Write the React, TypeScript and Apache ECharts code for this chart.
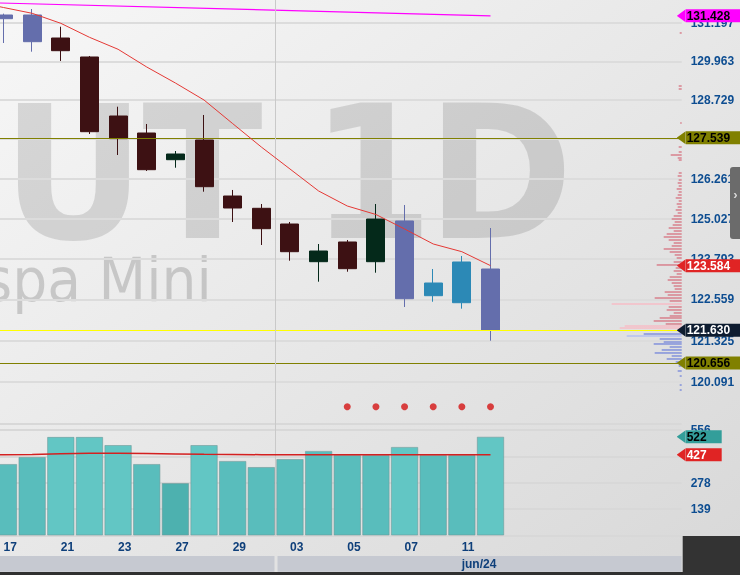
import React, { useEffect, useRef } from "react";
import * as echarts from "echarts";

// ---------- data ----------
const DATES = ["17", "20", "21", "22", "23", "24", "27", "28", "29", "31", "03", "04", "05", "06", "07", "10", "11", "12"];
const LABEL_IDX = [0, 2, 4, 6, 8, 10, 12, 14, 16];
const OPEN = [131.456, 131.456, 130.713, 130.103, 128.225, 127.689, 126.852, 127.469, 125.722, 125.342, 124.858, 123.704, 124.306, 123.704, 124.951, 122.672, 122.46, 123.481];
const CLOSE = [131.336, 130.594, 130.305, 127.73, 127.51, 126.54, 127.03, 126.011, 125.351, 124.714, 124.009, 124.03, 123.491, 125.012, 122.581, 123.056, 123.695, 121.63];
const LOW = [130.552, 130.273, 129.975, 127.658, 126.999, 126.5, 126.602, 125.856, 124.92, 124.214, 123.734, 123.096, 123.399, 123.369, 122.331, 122.49, 122.28, 121.319];
const HIGH = [131.5, 131.65, 131.077, 130.135, 128.519, 127.973, 127.124, 128.257, 125.909, 125.475, 124.92, 124.244, 124.367, 125.475, 125.444, 123.481, 123.878, 124.735];
const CANDLE_KIND = ["b", "b", "m", "m", "m", "m", "g", "m", "m", "m", "m", "g", "m", "g", "b", "t", "t", "b"];
const MA_PREV = 131.887;
const MA = [131.699, 131.511, 131.187, 130.736, 130.35, 129.782, 129.272, 128.731, 127.985, 127.249, 126.562, 125.878, 125.413, 125.151, 124.705, 124.245, 124.009, 123.584];
const TREND_START = 131.867; // index -1
const TREND_END = 131.428; // index 17
const LEVEL_UPPER = 127.539;
const LEVEL_LOWER = 120.656;
const LAST_PRICE = 121.63;
const SIGNAL_IDX = [12, 13, 14, 15, 16, 17];
const SIGNAL_PRICE = 119.36;
const PRICE_TICKS = [131.197, 129.963, 128.729, 127.495, 126.261, 125.027, 123.793, 122.559, 121.325, 120.091];

const VOL = [378, 415, 521, 521, 478, 378, 277, 478, 394, 362, 404, 447, 425, 425, 468, 425, 425, 522];
const VOL_KIND = [1, 1, 0, 0, 0, 1, 2, 0, 1, 1, 1, 1, 1, 1, 0, 1, 1, 0];
const VOL_MA_PREV = 426;
const VOL_MA = [427, 428, 432, 434, 434, 433, 431, 429, 428, 427, 427, 427, 427, 427, 427, 427, 427, 427];
const VOL_LAST = 522;
const VOL_MA_LAST = 427;

const PROFILE_PRICE = [130.875, 129.176, 129.081, 128.004, 127.25, 127.093, 126.999, 126.905, 126.842, 126.437, 126.344, 126.219, 126.126, 126.033, 125.94, 125.847, 125.754, 125.661, 125.568, 125.475, 125.382, 125.29, 125.197, 125.105, 125.012, 124.92, 124.827, 124.735, 124.643, 124.551, 124.459, 124.367, 124.275, 124.184, 124.092, 124.0, 123.909, 123.817, 123.695, 123.604, 123.512, 123.421, 123.33, 123.238, 123.147, 123.056, 122.965, 122.874, 122.783, 122.693, 122.602, 122.512, 122.422, 122.331, 122.241, 122.151, 122.06, 122.0, 121.91, 121.82, 121.76, 121.7, 121.52, 121.46, 121.37, 121.28, 121.221, 121.131, 121.042, 120.953, 120.863, 120.774, 120.684, 120.566, 120.417, 120.268, 120.002, 119.854];
const PROFILE_LEN = [2, 3, 3, 1.5, 3, 3, 11, 4, 3, 3, 4, 3, 4, 3, 5, 3, 4, 6, 3, 5, 4, 6, 4, 8, 10, 7, 9, 13, 8, 15, 18, 13, 8, 10, 18, 12, 7, 5, 8, 25, 6, 8, 5, 12, 14, 10, 8, 7, 17, 14, 27, 12, 70, 13, 15, 8, 12, 22, 28, 16, 57, 62, 38, 55, 22, 18, 28, 12, 20, 27, 10, 15, 6, 3, 4, 2, 2, 2];
const PROFILE_KIND = "0000000000000000000000000000000000000000000000000000100000001123" + "22222222222222";

// ---------- styles ----------
const FONT = "'Liberation Sans', Arial, Helvetica, sans-serif";
const WM_FONT = "'DejaVu Sans', Verdana, sans-serif";
const AXIS_BLUE = "#0D4D91";
const DATE_BLUE = "#0E3F7A";
const CANDLE_COLORS: Record<string, string> = { b: "#646EAC", m: "#3D1113", g: "#04291A", t: "#2C89B6" };
const VOL_COLORS = ["#62C6C4", "#59BDBC", "#4DB1AF"];
const PROFILE_COLORS = ["rgba(214,112,126,0.85)", "#F6BCC6", "rgba(120,136,218,0.9)", "#B5C0F0"];

const LN = Math.log;
const X_MIN = -0.1222;
const X_MAX = 23.674;
const P_MIN = 4.777902;
const P_MAX = 4.882367;
const GRID_RIGHT = 58.3;

function arrowImage(color: string) {
  const svg = `<svg xmlns="http://www.w3.org/2000/svg" width="9" height="13" viewBox="0 0 9 13" preserveAspectRatio="none"><polygon points="0,6.5 9,0 9,13" fill="${color}"/></svg>`;
  return "data:image/svg+xml;charset=utf-8," + encodeURIComponent(svg);
}

function tagLabel(text: string, bg: string, fg: string, boxW: number) {
  return {
    show: true,
    position: "end",
    distance: -5,
    opacity: 1,
    formatter: `{arr| }{box|${text}}`,
    rich: {
      arr: {
        width: 9,
        height: 13,
        lineHeight: 13,
        fontSize: 12,
        padding: 0,
        opacity: 1,
        backgroundColor: { image: arrowImage(bg) },
      },
      box: {
        width: boxW - 10,
        height: 13,
        lineHeight: 13,
        padding: [0, 0, 0, 1],
        align: "left",
        opacity: 1,
        backgroundColor: bg,
        color: fg,
        fontFamily: FONT,
        fontWeight: "bold",
        fontSize: 12,
      },
    },
  };
}

const hidden = { lineStyle: { color: "rgba(0,0,0,0)", width: 0, opacity: 1 } };

function buildOption() {
  const candleData = OPEN.map((o, i) => {
    const c = CANDLE_COLORS[CANDLE_KIND[i]];
    return {
      value: [i, LN(o), LN(CLOSE[i]), LN(LOW[i]), LN(HIGH[i])],
      itemStyle: { color: c, color0: c, borderColor: c, borderColor0: c, borderWidth: 1 },
    };
  });
  const maData = [[-1, LN(MA_PREV)], ...MA.map((v, i) => [i, LN(v)])];
  const volData = VOL.map((v, i) => ({ value: [i, v], itemStyle: { color: VOL_COLORS[VOL_KIND[i]] } }));
  const volMaData = [[-1, VOL_MA_PREV], ...VOL_MA.map((v, i) => [i, v])];
  const profileData = PROFILE_PRICE.map((p, i) => [PROFILE_LEN[i], LN(p), Number(PROFILE_KIND[i])]);
  const tickLn = PRICE_TICKS.map(LN);

  const bg = new echarts.graphic.LinearGradient(0, 0, 1, 1, [
    { offset: 0, color: "#F7F7F7" },
    { offset: 1, color: "#D8D8D8" },
  ]);

  const wm = (text: string, x: number) => ({
    type: "text",
    x,
    y: 174,
    scaleX: 0.95,
    z: -90,
    silent: true,
    style: {
      text,
      font: `bold 186px ${WM_FONT}`,
      fill: "rgba(0,0,0,0.12)",
      align: "center",
      textAlign: "center",
      verticalAlign: "middle",
      textVerticalAlign: "middle",
    },
  });

  return {
    animation: false,
    graphic: {
      elements: [
        { type: "rect", z: -100, silent: true, shape: { x: 0, y: 0, width: 740, height: 575 }, style: { fill: bg } },
        wm("F", -48),
        wm("U", 73.5),
        wm("T", 202.5),
        wm("1", 372),
        wm("D", 500),
        {
          type: "text",
          x: 211.8,
          y: 280,
          scaleX: 0.92,
          z: -90,
          silent: true,
          style: {
            text: "Bovespa Mini",
            font: `60px ${WM_FONT}`,
            fill: "rgba(0,0,0,0.16)",
            align: "right",
            textAlign: "right",
            verticalAlign: "middle",
            textVerticalAlign: "middle",
          },
        },
        { type: "rect", z: 20, silent: true, shape: { x: 0, y: 556, width: 274.5, height: 15.7 }, style: { fill: "#C6C9D1" } },
        { type: "rect", z: 20, silent: true, shape: { x: 277.5, y: 556, width: 404, height: 15.7 }, style: { fill: "#C6C9D1" } },
        {
          type: "text",
          z: 21,
          x: 479,
          y: 563.5,
          silent: true,
          style: {
            text: "jun/24",
            font: `bold 12px ${FONT}`,
            fill: DATE_BLUE,
            align: "center",
            textAlign: "center",
            verticalAlign: "middle",
            textVerticalAlign: "middle",
          },
        },
        { type: "rect", z: 20, silent: true, shape: { x: 0, y: 572, width: 740, height: 3 }, style: { fill: "#303030" } },
        { type: "rect", z: 20, silent: true, shape: { x: 682.7, y: 536, width: 58, height: 40 }, style: { fill: "#333333" } },
        { type: "rect", z: 20, silent: true, shape: { x: 730, y: 167, width: 12, height: 72, r: [3, 0, 0, 3] }, style: { fill: "#6B6B6B" } },
        {
          type: "text",
          z: 21,
          x: 735.5,
          y: 194,
          silent: true,
          style: {
            text: "›",
            font: `bold 13px ${FONT}`,
            fill: "#D8D8D8",
            align: "center",
            textAlign: "center",
            verticalAlign: "middle",
            textVerticalAlign: "middle",
          },
        },
      ],
    },
    grid: [
      { left: 0, right: GRID_RIGHT, top: 0, height: 424, containLabel: false, outerBoundsMode: "none" },
      { left: 0, right: GRID_RIGHT, top: 424, height: 111.5, containLabel: false, outerBoundsMode: "none" },
    ],
    xAxis: [
      { type: "value", gridIndex: 0, min: X_MIN, max: X_MAX, show: false },
      {
        type: "value",
        gridIndex: 1,
        min: X_MIN,
        max: X_MAX,
        axisLine: { show: false },
        axisTick: { show: false, customValues: LABEL_IDX },
        splitLine: { show: false },
        axisLabel: {
          customValues: LABEL_IDX,
          formatter: (v: number) => DATES[Math.round(v)] ?? "",
          align: "left",
          margin: 5,
          color: DATE_BLUE,
          fontWeight: "bold",
          fontSize: 12,
          fontFamily: FONT,
        },
      },
      { type: "value", gridIndex: 0, min: 0, max: 681.7, inverse: true, show: false },
    ],
    yAxis: [
      {
        type: "value",
        gridIndex: 0,
        position: "right",
        min: P_MIN,
        max: P_MAX,
        axisLine: { show: false },
        axisTick: { show: false, customValues: tickLn },
        axisLabel: {
          customValues: tickLn,
          formatter: (v: number) => {
            let best = 0;
            tickLn.forEach((t, i) => {
              if (Math.abs(t - v) < Math.abs(tickLn[best] - v)) best = i;
            });
            return PRICE_TICKS[best].toFixed(3);
          },
          margin: 9,
          color: AXIS_BLUE,
          fontWeight: "bold",
          fontSize: 12,
          fontFamily: FONT,
        },
        splitLine: { show: true, lineStyle: { color: "#DCDCDC", width: 2 } },
      },
      {
        type: "value",
        gridIndex: 1,
        position: "right",
        min: 0,
        max: 589,
        interval: 139,
        axisLine: { show: false },
        axisTick: { show: false },
        axisLabel: {
          showMinLabel: false,
          showMaxLabel: false,
          margin: 9,
          color: AXIS_BLUE,
          fontWeight: "bold",
          fontSize: 12,
          fontFamily: FONT,
        },
        splitLine: { show: true, lineStyle: { color: "#D8D8D8", width: 2 } },
      },
    ],
    series: [
      {
        type: "line",
        name: "trend",
        xAxisIndex: 0,
        yAxisIndex: 0,
        data: [[-1, LN(TREND_START)], [17, LN(TREND_END)]],
        symbol: "none",
        lineStyle: { color: "#FF00FF", width: 1.2 },
        clip: false,
        silent: true,
        z: 1,
        markLine: {
          silent: true,
          precision: 8,
          symbol: ["none", "none"],
          label: { show: false },
          data: [
            { yAxis: LN(LEVEL_UPPER), lineStyle: { color: "#808000", width: 1, type: "solid" } },
            { yAxis: LN(LEVEL_LOWER), lineStyle: { color: "#808000", width: 1, type: "solid" } },
            { yAxis: LN(LAST_PRICE), lineStyle: { color: "#FFFF00", width: 1, type: "solid" } },
          ],
        },
      },
      {
        type: "candlestick",
        xAxisIndex: 0,
        yAxisIndex: 0,
        barWidth: 18.5,
        data: candleData,
        z: 2,
        markLine: {
          silent: true,
          precision: 8,
          symbol: ["none", "none"],
          label: { show: false },
          lineStyle: { color: "#C9C9C9", width: 1, type: "solid" },
          data: [{ xAxis: 9.5 }],
        },
      },
      {
        type: "custom",
        xAxisIndex: 2,
        yAxisIndex: 0,
        data: profileData,
        encode: { x: 0, y: 1 },
        clip: false,
        silent: true,
        z: 3,
        renderItem: (params: any, api: any) => {
          const len = api.value(0);
          const y = api.value(1);
          const k = api.value(2);
          const a = api.coord([0, y]);
          const b = api.coord([len, y]);
          return {
            type: "rect",
            shape: { x: Math.min(a[0], b[0]), y: a[1] - 0.75, width: Math.abs(a[0] - b[0]), height: 1.5 },
            style: { fill: PROFILE_COLORS[k] },
          };
        },
      },
      {
        type: "line",
        name: "ma",
        xAxisIndex: 0,
        yAxisIndex: 0,
        data: maData,
        symbol: "none",
        lineStyle: { color: "#E53935", width: 1 },
        clip: false,
        silent: true,
        z: 5,
        markLine: {
          silent: true,
          precision: 8,
          symbol: ["none", "none"],
          data: [
            { yAxis: LN(TREND_END), ...hidden, label: tagLabel(TREND_END.toFixed(3), "#FF00FF", "#000000", 64) },
            { yAxis: LN(LEVEL_UPPER), ...hidden, label: tagLabel(LEVEL_UPPER.toFixed(3), "#808000", "#000000", 64) },
            { yAxis: LN(MA[MA.length - 1]), ...hidden, label: tagLabel(MA[MA.length - 1].toFixed(3), "#E02424", "#FFFFFF", 64) },
            { yAxis: LN(LAST_PRICE), ...hidden, label: tagLabel(LAST_PRICE.toFixed(3), "#0E1C30", "#FFFFFF", 64) },
            { yAxis: LN(LEVEL_LOWER), ...hidden, label: tagLabel(LEVEL_LOWER.toFixed(3), "#808000", "#000000", 64) },
          ],
        },
      },
      {
        type: "scatter",
        xAxisIndex: 0,
        yAxisIndex: 0,
        data: SIGNAL_IDX.map((i) => [i, LN(SIGNAL_PRICE)]),
        symbolSize: 7,
        itemStyle: { color: "#D41414" },
        silent: true,
        z: 4,
      },
      {
        type: "bar",
        xAxisIndex: 1,
        yAxisIndex: 1,
        data: volData,
        barWidth: 27.4,
        itemStyle: { borderColor: "rgba(110,150,150,0.55)", borderWidth: 1 },
        silent: true,
        z: 2,
        markLine: {
          silent: true,
          precision: 8,
          symbol: ["none", "none"],
          label: { show: false },
          lineStyle: { color: "#C9C9C9", width: 1, type: "solid" },
          data: [{ xAxis: 9.5 }],
        },
      },
      {
        type: "line",
        xAxisIndex: 1,
        yAxisIndex: 1,
        data: volMaData,
        symbol: "none",
        lineStyle: { color: "#D42020", width: 1.5 },
        clip: false,
        silent: true,
        z: 5,
        markLine: {
          silent: true,
          precision: 8,
          symbol: ["none", "none"],
          data: [
            { yAxis: VOL_LAST, ...hidden, label: tagLabel(String(VOL_LAST), "#339E9A", "#000000", 45) },
            { yAxis: VOL_MA_LAST, ...hidden, label: tagLabel(String(VOL_MA_LAST), "#E02424", "#FFFFFF", 45) },
          ],
        },
      },
    ],
  };
}

export default function App() {
  const ref = useRef<HTMLDivElement | null>(null);
  useEffect(() => {
    if (!ref.current) return;
    const chart = echarts.init(ref.current, undefined, { renderer: "svg" });
    chart.setOption(buildOption() as any);
    return () => chart.dispose();
  }, []);
  return (
    <div
      ref={ref}
      style={{ position: "fixed", left: 0, top: 0, width: 740, height: 575 }}
    />
  );
}
